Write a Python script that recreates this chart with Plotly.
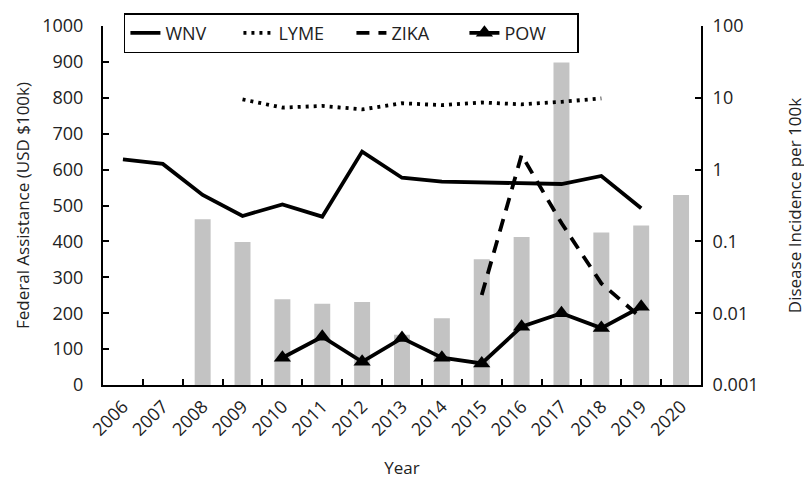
import plotly.graph_objects as go

years = [str(y) for y in range(2006, 2021)]
federal_assistance = [None, None, 462, 398, 239, 226, 231, 140, 186, 350, 412, 898, 425, 444, 529]
wnv = [1.39, 1.20, 0.443, 0.226, 0.328, 0.221, 1.78, 0.77, 0.68, 0.66, 0.65, 0.63, 0.815, 0.289, None]
lyme = [None, None, None, 9.5, 7.3, 7.7, 6.9, 8.4, 7.9, 8.6, 8.1, 8.8, 9.8, None, None]
zika = [None, None, None, None, None, None, None, None, None, 0.0179, 1.6, 0.18, 0.026, 0.0086, None]
pow_ = [None, None, None, None, 0.0024, 0.0047, 0.0021, 0.0045, 0.0024, 0.0020, 0.0065, 0.0100, 0.0062, 0.0123, None]

FONT = "Open Sans"
fig = go.Figure()
fig.add_trace(go.Bar(x=years, y=federal_assistance, marker=dict(color="#c3c3c3", line=dict(width=0)),
                     width=0.4, showlegend=False, yaxis="y"))
fig.add_trace(go.Scatter(x=years, y=wnv, name="WNV", mode="lines", yaxis="y2",
                         line=dict(color="black", width=3.8)))
fig.add_trace(go.Scatter(x=years, y=lyme, name="LYME", mode="lines", yaxis="y2",
                         line=dict(color="black", width=3.8, dash="3px,5px")))
fig.add_trace(go.Scatter(x=years, y=zika, name="ZIKA", mode="lines", yaxis="y2",
                         line=dict(color="black", width=3.8, dash="13px,9px")))
fig.add_trace(go.Scatter(x=years, y=pow_, name="POW", mode="lines+markers", yaxis="y2",
                         line=dict(color="black", width=3.8),
                         marker=dict(symbol="triangle-up", size=15, color="black")))

fig.update_layout(
    width=812, height=477,
    margin=dict(l=95, r=119, t=18, b=100, autoexpand=False),
    paper_bgcolor="white", plot_bgcolor="white",
    font=dict(family=FONT, size=17, color="#222"),
    bargap=0.6,
    xaxis=dict(type="category", range=[-0.5, len(years) - 0.5], tickangle=-45, tickson="boundaries",
               ticks="inside", ticklen=6,
               tickwidth=2, tickcolor="black", showline=True, linecolor="black", linewidth=2,
               showgrid=False, tickfont=dict(size=18), ticklabelstandoff=2,
               title=dict(text="Year", font=dict(size=17), standoff=22)),
    yaxis=dict(range=[0, 1000], dtick=100, ticks="inside", ticklen=6, tickwidth=2, tickcolor="black",
               showline=True, linecolor="black", linewidth=2, showgrid=False, zeroline=False,
               tickfont=dict(size=18), ticklabelstandoff=14,
               title=dict(text="Federal Assistance (USD $100k)", font=dict(size=17), standoff=8)),
    yaxis2=dict(type="log", range=[-3, 2], overlaying="y", side="right",
                tickvals=[0.001, 0.01, 0.1, 1, 10, 100],
                ticktext=["0.001", "0.01", "0.1", "1", "10", "100"],
                ticks="inside", ticklen=6, tickwidth=2, tickcolor="black",
                showline=True, linecolor="black", linewidth=2, showgrid=False, zeroline=False,
                tickfont=dict(size=18), ticklabelstandoff=6,
                title=dict(text="Disease Incidence per 100k", font=dict(size=17), standoff=32)),
    legend=dict(orientation="h", x=0.035, y=1.036, xanchor="left", yanchor="top",
                bgcolor="white", bordercolor="black", borderwidth=1.5,
                font=dict(size=18), entrywidth=68, entrywidthmode="pixels"),
)

fig.write_html("out.html")
